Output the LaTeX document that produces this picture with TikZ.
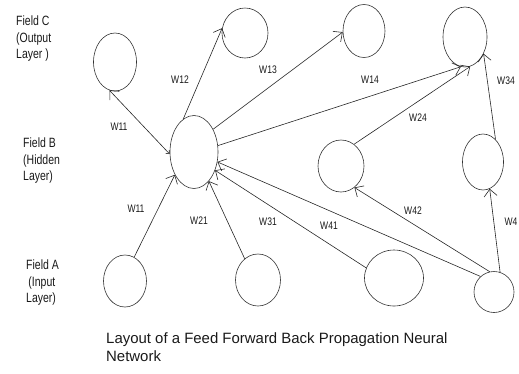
\documentclass[tikz,border=0pt]{standalone}
\usepackage{fontspec}
\setmainfont{Liberation Sans}
\newfontfamily\fieldfont[FakeStretch=0.78]{Liberation Sans}
\usetikzlibrary{arrows.meta,shapes.geometric}

\begin{document}
\begin{tikzpicture}[x=1bp,y=-1bp,
  neuron/.style={draw=black!80,ellipse,inner sep=0pt,line width=0.6bp},
  wlink/.style={draw=black!85,line width=0.6bp,-{Straight Barb[length=7bp,width=13bp]}},
  wlabel/.style={font=\fieldfont\fontsize{11}{13}\selectfont,text=black!90,inner sep=0pt},
  field/.style={font=\fieldfont\fontsize{13.5}{16.5}\selectfont,text=black!90,
    align=left,anchor=north west,inner sep=0pt}]
\useasboundingbox (0,0) rectangle (519,373);

% output layer
\node[neuron,minimum width=43bp,minimum height=58bp] (c1) at (115,62) {};
\node[neuron,minimum width=46bp,minimum height=50bp] (c2) at (245,33) {};
\node[neuron,minimum width=42bp,minimum height=53bp] (c3) at (364,31) {};
\node[neuron,minimum width=44bp,minimum height=60bp] (c4) at (465,37) {};

% hidden layer
\node[neuron,minimum width=48bp,minimum height=73bp] (b1) at (194,152) {};
\node[neuron,minimum width=46bp,minimum height=52bp] (b2) at (341,166) {};
\node[neuron,minimum width=41bp,minimum height=56bp] (b3) at (483,162) {};

% input layer
\node[neuron,minimum width=43bp,minimum height=52bp] (a1) at (125,281) {};
\node[neuron,minimum width=45bp,minimum height=52bp] (a2) at (258,280) {};
\node[neuron,minimum width=59bp,minimum height=56bp] (a3) at (394,278) {};
\node[neuron,minimum width=40bp,minimum height=41bp] (a4) at (494,292) {};

% hidden to output
\draw[wlink,{Straight Barb[length=3bp,width=5bp]}-{Straight Barb[length=7bp,width=13bp]}]
  (b1.185) -- (c1.259);
\draw[wlink] (b1.108) -- (c2.168);
\draw[wlink] (b1.50) -- (c3.183);
\draw[wlink] (b1.15) -- (c4.262);
\draw[wlink] (b2.59) -- (c4.280);
\draw[wlink] (b3.61) -- (c4.318);

% input to hidden
\draw[wlink] (a1.69) -- (b1.230);
\draw[wlink] (a2.122) -- (b1.297);
\draw[wlink] (a3.160) -- (b1.319);
\draw[wlink] (a4.131) -- (b1.337);
\draw[wlink] (a4.102) -- (b2.302);
\draw[wlink] (a4.73) -- (b3.284);

% weights
\node[wlabel] (w11c) at (119,127) {W11};
\node[wlabel] (w12) at (180,80) {W12};
\node[wlabel] (w13) at (268,70) {W13};
\node[wlabel] (w14) at (370,80) {W14};
\node[wlabel] (w24) at (418,118) {W24};
\node[wlabel] (w34) at (506,81) {W34};
\node[wlabel] (w11a) at (136,209) {W11};
\node[wlabel] (w21) at (199,221) {W21};
\node[wlabel] (w31) at (268,222) {W31};
\node[wlabel] (w41) at (329,226) {W41};
\node[wlabel] (w42) at (413,211) {W42};
\node[wlabel] (w4) at (511,222) {W4};

% fields
\node[field] (fc) at (16,16) {Field C\\(Output\\Layer )};
\node[field] (fb) at (23,138) {Field B\\(Hidden\\Layer)};
\node[field] (fa) at (26,260) {Field A\\\,(Input\\Layer)};

% caption
\node[field,font=\fontsize{15}{18.5}\selectfont] (cap) at (106,332)
  {Layout of a Feed Forward Back Propagation Neural\\Network};

\end{tikzpicture}
\end{document}
